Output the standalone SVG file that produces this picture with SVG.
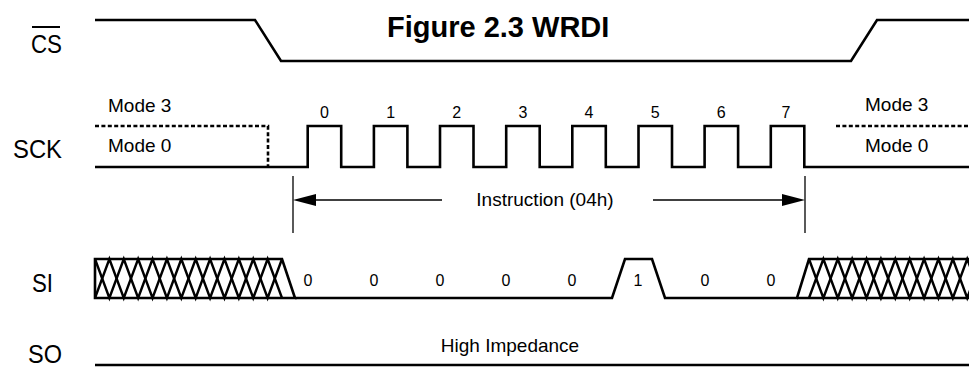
<svg xmlns="http://www.w3.org/2000/svg" width="969" height="368" viewBox="0 0 969 368">
<style>
.sig{fill:none;stroke:#000;stroke-width:2.6;stroke-linejoin:miter}
.dash{fill:none;stroke:#000;stroke-width:2.6;stroke-dasharray:4 2.4}
.hatch{fill:none;stroke:#000;stroke-width:2.4}
.dim{fill:none;stroke:#000;stroke-width:1.3}
.lbl{font-family:"Liberation Sans",Arial,sans-serif;font-size:26px;fill:#000}
.sm{font-family:"Liberation Sans",Arial,sans-serif;font-size:19px;fill:#000}
.num{font-family:"Liberation Sans",Arial,sans-serif;font-size:16px;fill:#000;text-anchor:middle}
.bit{font-family:"Liberation Sans",Arial,sans-serif;font-size:16px;fill:#000;text-anchor:middle}
.title{font-family:"Liberation Sans",Arial,sans-serif;font-size:29px;font-weight:bold;fill:#000}
</style>
<rect width="969" height="368" fill="#fff"/>
<g id="title"><text class="title" x="387" y="37">Figure 2.3 WRDI</text></g>
<g id="labels">
<text class="lbl" x="62" y="53" text-anchor="end" textLength="31" lengthAdjust="spacingAndGlyphs">CS</text>
<line x1="32" y1="27" x2="60" y2="27" stroke="#000" stroke-width="2"/>
<text class="lbl" x="62" y="158" text-anchor="end" textLength="49" lengthAdjust="spacingAndGlyphs">SCK</text>
<text class="lbl" x="53" y="292" text-anchor="end" textLength="21" lengthAdjust="spacingAndGlyphs">SI</text>
<text class="lbl" x="62" y="363" text-anchor="end" textLength="34" lengthAdjust="spacingAndGlyphs">SO</text>
</g>
<g id="cs">
<polyline class="sig" points="95,20 255,20 281,61 851,61 877,20 969,20"/>
</g>
<g id="sck">
<path class="dash" d="M95,126 H268 V167"/>
<path class="dash" d="M836,126 H969"/>
<polyline class="sig" points="95,167 307.7,167 307.7,126 341.2,126 341.2,167 373.9,167 373.9,126 407.4,126 407.4,167 440,167 440,126 473.5,126 473.5,167 506.2,167 506.2,126 539.7,126 539.7,167 572.3,167 572.3,126 605.8,126 605.8,167 638.5,167 638.5,126 672,126 672,167 704.6,167 704.6,126 738.1,126 738.1,167 770.8,167 770.8,126 804.3,126 804.3,167 969,167"/>
<text class="sm" x="108" y="112">Mode 3</text>
<text class="sm" x="108" y="152">Mode 0</text>
<text class="sm" x="865" y="111">Mode 3</text>
<text class="sm" x="865" y="152">Mode 0</text>
<text class="num" x="324.5" y="118">0</text>
<text class="num" x="390.6" y="118">1</text>
<text class="num" x="456.8" y="118">2</text>
<text class="num" x="522.9" y="118">3</text>
<text class="num" x="589" y="118">4</text>
<text class="num" x="655.2" y="118">5</text>
<text class="num" x="721.3" y="118">6</text>
<text class="num" x="786" y="118">7</text>
</g>
<g id="instruction">
<line class="dim" x1="293" y1="176" x2="293" y2="233"/>
<line class="dim" x1="805" y1="176" x2="805" y2="233"/>
<line class="dim" x1="310" y1="200" x2="442" y2="200"/>
<line class="dim" x1="653" y1="200" x2="788" y2="200"/>
<polygon points="293,200 316,194 316,206" fill="#000"/>
<polygon points="805,200 782,194 782,206" fill="#000"/>
<text class="sm" x="545" y="206" text-anchor="middle">Instruction (04h)</text>
</g>
<g id="si">
<path class="sig" d="M95,259 H282 L295,298 H95 Z" fill="none"/>
<polyline class="hatch" points="95,259 109.38,298 123.77,259 138.15,298 152.54,259 166.92,298 181.31,259 195.69,298 210.08,259 224.46,298 238.85,259 253.23,298 267.62,259 282,298"/>
<polyline class="hatch" points="95,298 109.38,259 123.77,298 138.15,259 152.54,298 166.92,259 181.31,298 195.69,259 210.08,298 224.46,259 238.85,298 253.23,259 267.62,298 282,259"/>
<polyline class="sig" points="295,298 612,298 625,259 652,259 665,298 797,298 809,259 969,259"/>
<line class="sig" x1="797" y1="298" x2="969" y2="298"/>
<polyline class="hatch" points="809,259 823.38,298 837.77,259 852.15,298 866.54,259 880.92,298 895.31,259 909.69,298 924.08,259 938.46,298 952.85,259 967.23,298 981.62,259"/>
<polyline class="hatch" points="809,298 823.38,259 837.77,298 852.15,259 866.54,298 880.92,259 895.31,298 909.69,259 924.08,298 938.46,259 952.85,298 967.23,259 981.62,298"/>
<text class="bit" x="308" y="286">0</text>
<text class="bit" x="374" y="286">0</text>
<text class="bit" x="440" y="286">0</text>
<text class="bit" x="506" y="286">0</text>
<text class="bit" x="572" y="286">0</text>
<text class="bit" x="638" y="286">1</text>
<text class="bit" x="705" y="286">0</text>
<text class="bit" x="771" y="286">0</text>
</g>
<g id="so">
<line class="sig" x1="95" y1="365" x2="969" y2="365"/>
<text class="sm" x="510" y="352" text-anchor="middle">High Impedance</text>
</g>
</svg>
